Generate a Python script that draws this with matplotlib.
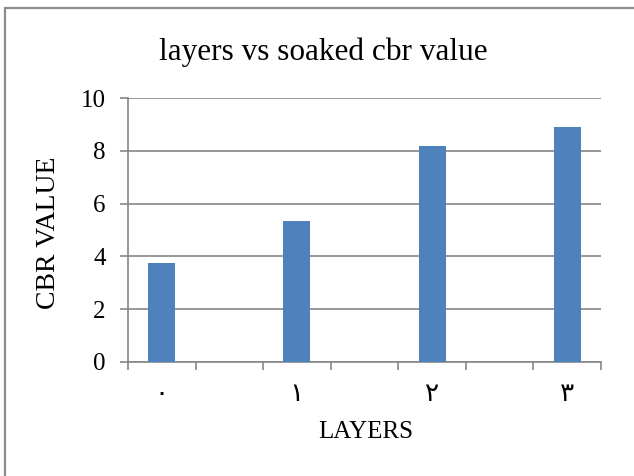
import numpy as np
import matplotlib
matplotlib.use("Agg")
import matplotlib.pyplot as plt
from matplotlib.patches import Rectangle

# Layer count (Arabic-Indic numerals) vs soaked CBR value
categories = ["٠", "", "١", "", "٢", "", "٣"]
cbr_values = [3.75, np.nan, 5.35, np.nan, 8.2, np.nan, 8.9]
y_ticks = [0, 2, 4, 6, 8, 10]

W, H = 634, 476
fig = plt.figure(figsize=(W / 100, H / 100), dpi=100)
fig.patch.set_facecolor("white")

serif = ["Liberation Serif", "DejaVu Sans"]
grid_col = "#868686"
bar_col = "#4F81BD"

# chart-area border
fig.patches.append(Rectangle((5 / W, -0.2), 1.5, 1 - 8 / H + 0.2,
                             transform=fig.transFigure, fill=False,
                             edgecolor="#8c8c8c", linewidth=1.6))

ax = fig.add_axes([128 / W, 1 - 361.7 / H, (601 - 128) / W, (361.7 - 98.3) / H])
x = np.arange(len(categories))
vals = np.array(cbr_values, dtype=float)
mask = ~np.isnan(vals)
ax.bar(x[mask], vals[mask], width=0.4, color=bar_col, zorder=3)

ax.set_xlim(-0.5, len(categories) - 0.5)
ax.set_ylim(0, 10)
ax.set_yticks(y_ticks)
ax.set_yticklabels([str(t) for t in y_ticks], fontfamily=serif, fontsize=18)

# tick marks on category boundaries, labels on category centres
ax.set_xticks(np.arange(-0.5, len(categories), 1.0))
ax.set_xticklabels([])
ax.set_xticks(x, minor=True)
ax.set_xticklabels(categories, minor=True, fontfamily=serif, fontsize=19)
ax.tick_params(axis="x", which="major", direction="out", length=6,
               color=grid_col, width=1.2)
ax.tick_params(axis="x", which="minor", length=0, pad=16)
ax.tick_params(axis="y", direction="out", length=6, color=grid_col,
               width=1.2, pad=10)

ax.grid(axis="y", color=grid_col, linewidth=1.2, zorder=0)
ax.set_axisbelow(True)
for s in ["top", "right"]:
    ax.spines[s].set_visible(False)
for s in ["left", "bottom"]:
    ax.spines[s].set_color(grid_col)
    ax.spines[s].set_linewidth(1.2)

fig.text(323 / W, 1 - 52 / H, "layers vs soaked cbr value", ha="center",
         va="center", fontfamily=serif, fontsize=22.5)
fig.text(366 / W, 1 - 432 / H, "LAYERS", ha="center", va="center",
         fontfamily=serif, fontsize=18)
fig.text(49 / W, 1 - 233 / H, "CBR VALUE", ha="center", va="center",
         rotation=90, fontfamily=serif, fontsize=20)

fig.savefig("out.png", dpi=100, facecolor="white")
